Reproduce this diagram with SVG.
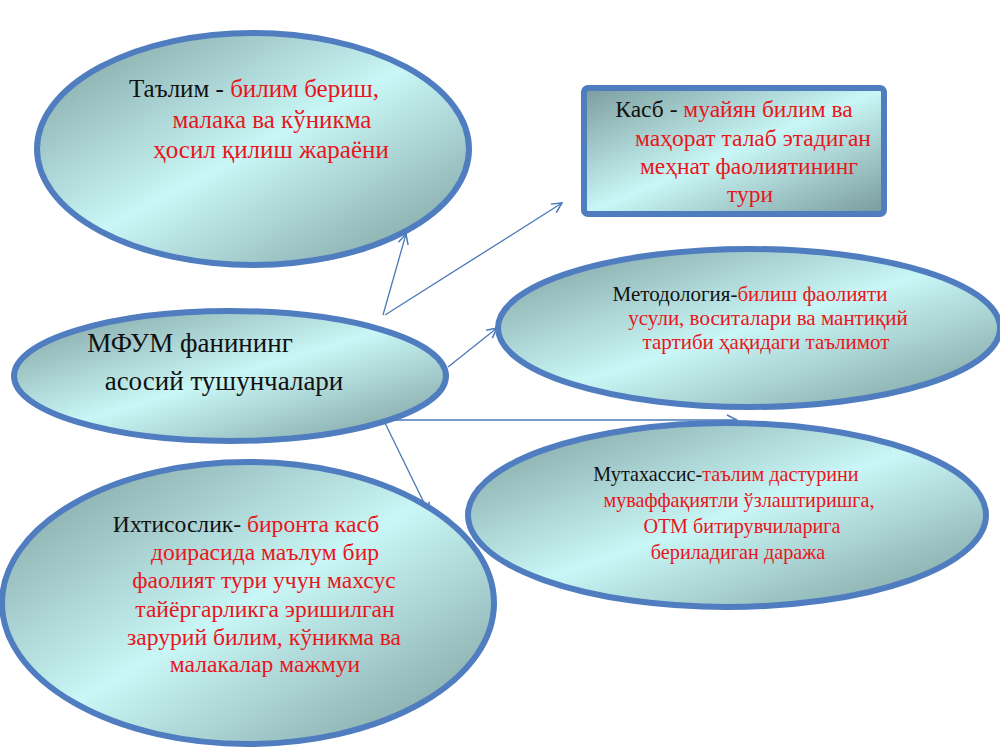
<svg xmlns="http://www.w3.org/2000/svg" width="1000" height="750" viewBox="0 0 1000 750">
  <style>
    .shape { stroke: #4f7dbf; stroke-width: 6; fill: url(#g); }
    .conn { stroke: #4a78b8; stroke-width: 1.3; fill: none; marker-end: url(#arr); }
    text { font-family: "Liberation Serif", "DejaVu Serif", serif; text-anchor: middle; fill: #111; }
    .r { fill: #e8161b; }
  </style>
  <defs>
    <linearGradient id="g" x1="0" y1="0" x2="1" y2="1">
      <stop offset="0" stop-color="#7b9c9c"/>
      <stop offset="0.5" stop-color="#c9f6f6"/>
      <stop offset="1" stop-color="#789a9a"/>
    </linearGradient>
    <marker id="arr" viewBox="0 0 12 12" refX="11" refY="6" markerWidth="12" markerHeight="12" markerUnits="userSpaceOnUse" orient="auto">
      <path d="M1,1 L11,6 L1,11" fill="none" stroke="#4a78b8" stroke-width="1.5"/>
    </marker>
  </defs>
  <rect width="1000" height="750" fill="#fff"/>

  <g id="connectors">
    <line class="conn" x1="383" y1="315" x2="406" y2="234"/>
    <line class="conn" x1="385" y1="315" x2="562" y2="203"/>
    <line class="conn" x1="448" y1="367" x2="497" y2="328"/>
    <line class="conn" x1="387" y1="420" x2="737" y2="420"/>
    <line class="conn" x1="385" y1="423" x2="429" y2="513"/>
  </g>

  <g id="talim">
    <ellipse class="shape" cx="253" cy="149" rx="216" ry="116"/>
    <text y="97" x="254" font-size="25">Таълим - <tspan class="r">билим бериш,</tspan></text>
    <text y="128" x="272" font-size="25" class="r">малака ва кўникма</text>
    <text y="158" x="271" font-size="25" class="r">ҳосил қилиш жараёни</text>
  </g>

  <g id="kasb">
    <rect class="shape" x="584" y="88" width="300" height="126" rx="4"/>
    <text y="117" x="734" font-size="23.5">Касб - <tspan class="r">муайян билим ва</tspan></text>
    <text y="146" x="753" font-size="23.5" class="r">маҳорат талаб этадиган</text>
    <text y="174" x="749" font-size="23.5" class="r">меҳнат фаолиятининг</text>
    <text y="202" x="750" font-size="23.5" class="r">тури</text>
  </g>

  <g id="metodologiya">
    <ellipse class="shape" cx="749" cy="328" rx="251" ry="79"/>
    <text y="301" x="750" font-size="21">Методология-<tspan class="r">билиш фаолияти</tspan></text>
    <text y="325" x="768" font-size="21" class="r">усули, воситалари ва мантиқий</text>
    <text y="349" x="766" font-size="21" class="r">тартиби ҳақидаги таълимот</text>
  </g>

  <g id="mfum">
    <ellipse class="shape" cx="230" cy="376" rx="216" ry="65"/>
    <text y="352" x="190" font-size="27">МФУМ фанининг</text>
    <text y="390" x="224" font-size="27">асосий тушунчалари</text>
  </g>

  <g id="mutaxassis">
    <ellipse class="shape" cx="727" cy="515" rx="259" ry="92"/>
    <text y="481" x="726" font-size="20.2">Мутахассис-<tspan class="r">таълим дастурини</tspan></text>
    <text y="507" x="739" font-size="20.2" class="r">муваффақиятли ўзлаштиришга,</text>
    <text y="533" x="742" font-size="20.2" class="r">ОТМ битирувчиларига</text>
    <text y="559" x="738" font-size="20.2" class="r">бериладиган даража</text>
  </g>

  <g id="ixtisoslik">
    <ellipse class="shape" cx="248" cy="603" rx="246" ry="141"/>
    <text y="532" x="246" font-size="23.6">Ихтисослик- <tspan class="r">биронта касб</tspan></text>
    <text y="560" x="265" font-size="23.6" class="r">доирасида маълум бир</text>
    <text y="588" x="264" font-size="23.6" class="r">фаолият тури учун махсус</text>
    <text y="617" x="265" font-size="23.6" class="r">тайёргарликга эришилган</text>
    <text y="645" x="264" font-size="23.6" class="r">зарурий билим, кўникма ва</text>
    <text y="672" x="265" font-size="23.6" class="r">малакалар мажмуи</text>
  </g>
</svg>
